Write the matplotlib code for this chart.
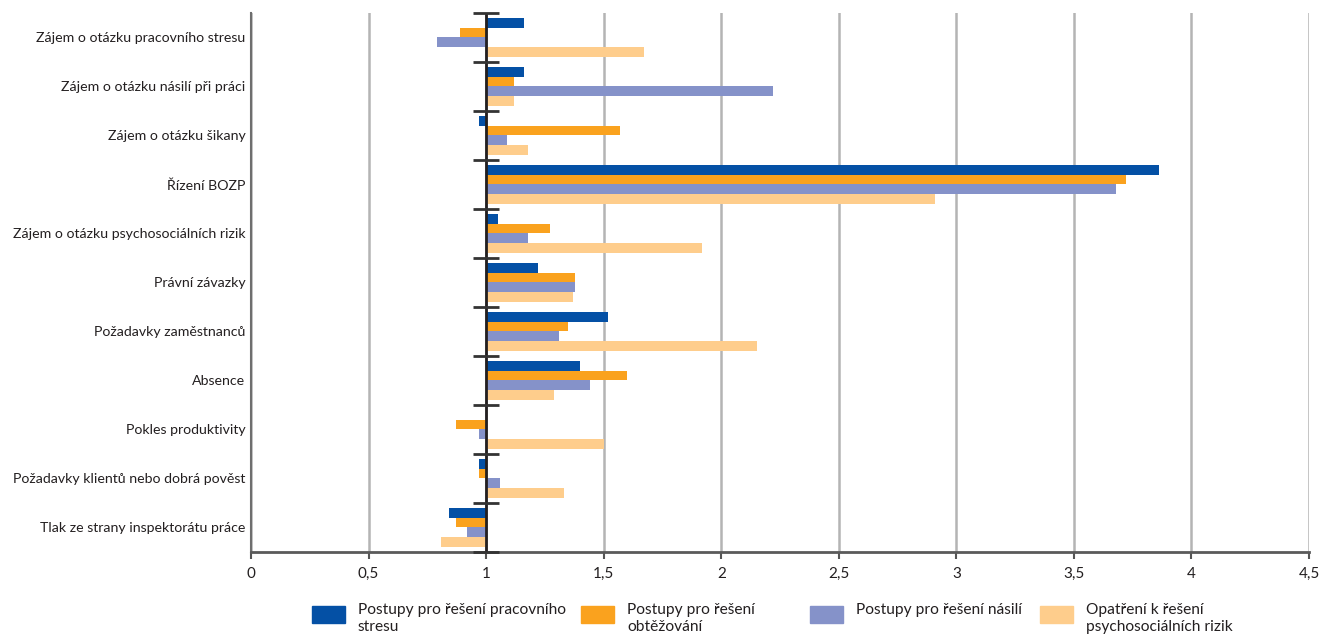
import numpy as np
import matplotlib.pyplot as plt
from matplotlib.patches import Rectangle

plt.rcParams['font.family'] = ['Lato', 'DejaVu Sans']

categories = [
    "Zájem o otázku pracovního stresu",
    "Zájem o otázku násilí při práci",
    "Zájem o otázku šikany",
    "Řízení BOZP",
    "Zájem o otázku psychosociálních rizik",
    "Právní závazky",
    "Požadavky zaměstnanců",
    "Absence",
    "Pokles produktivity",
    "Požadavky klientů nebo dobrá pověst",
    "Tlak ze strany inspektorátu práce",
]

series_names = [
    "Postupy pro řešení pracovního\nstresu",
    "Postupy pro řešení\nobtěžování",
    "Postupy pro řešení násilí",
    "Opatření k řešení\npsychosociálních rizik",
]

stres = [1.16, 1.16, 0.97, 3.86, 1.05, 1.22, 1.52, 1.40, 1.00, 0.97, 0.84]
obtezovani = [0.89, 1.12, 1.57, 3.72, 1.27, 1.38, 1.35, 1.60, 0.87, 0.97, 0.87]
nasili = [0.79, 2.22, 1.09, 3.68, 1.18, 1.38, 1.31, 1.44, 0.97, 1.06, 0.92]
psychosocialni = [1.67, 1.12, 1.18, 2.91, 1.92, 1.37, 2.15, 1.29, 1.50, 1.33, 0.81]

x_ticks = [0, 0.5, 1, 1.5, 2, 2.5, 3, 3.5, 4, 4.5]
x_tick_labels = ["0", "0,5", "1", "1,5", "2", "2,5", "3", "3,5", "4", "4,5"]

colors = ["#0450A5", "#FAA21E", "#8592C9", "#FECD8C"]
baseline = 1.0

fig = plt.figure(figsize=(13.36, 6.42), dpi=100)
ax = fig.add_axes([0.1879, 0.1402, 0.7919, 0.8396])

y = np.arange(len(categories))
h = 0.2
offsets = [-1.5 * h, -0.5 * h, 0.5 * h, 1.5 * h]
all_series = [stres, obtezovani, nasili, psychosocialni]

# bars grow from the baseline at 1, left or right
for vals, off, c in zip(all_series, offsets, colors):
    vals = np.array(vals)
    ax.barh(y + off, vals - baseline, left=baseline, height=h, color=c, zorder=3)

ax.set_xlim(0, 4.5)
ax.set_ylim(len(categories) - 0.5, -0.5)

ax.set_xticks(x_ticks)
ax.set_xticklabels(x_tick_labels, fontsize=11, color="#231F20")
ax.set_yticks(y)
ax.set_yticklabels(categories, fontsize=10.15, color="#231F20")
ax.tick_params(axis="y", length=0, pad=4)
ax.tick_params(axis="x", length=5, width=1.5, color="#555555", pad=6)

ax.xaxis.grid(True, color="#B4B4B4", lw=1.8, zorder=0)
ax.set_axisbelow(True)

ax.axvline(baseline, color="#231F20", lw=2, zorder=4)
ax.hlines(np.arange(-0.5, len(categories)), baseline - 0.055, baseline + 0.055,
          color="#333333", lw=2, zorder=5, clip_on=False)

for s in ["top", "right"]:
    ax.spines[s].set_visible(False)
ax.spines["left"].set_color("#6E6E6E")
ax.spines["left"].set_linewidth(1.5)
ax.spines["bottom"].set_color("#5A5A5A")
ax.spines["bottom"].set_linewidth(2)

# legend along the bottom, swatch level with the first text line
leg_x = [312, 581, 810, 1040]
W, H = 1336, 642
for name, c, px in zip(series_names, colors, leg_x):
    fig.add_artist(Rectangle((px / W, 1 - 623 / H), 33 / W, 17 / H,
                             transform=fig.transFigure, color=c))
    fig.text((px + 46) / W, 1 - 603 / H, name, fontsize=11.2, color="#231F20",
             va="top", ha="left", linespacing=1.25)

fig.savefig("out.png", dpi=100)
